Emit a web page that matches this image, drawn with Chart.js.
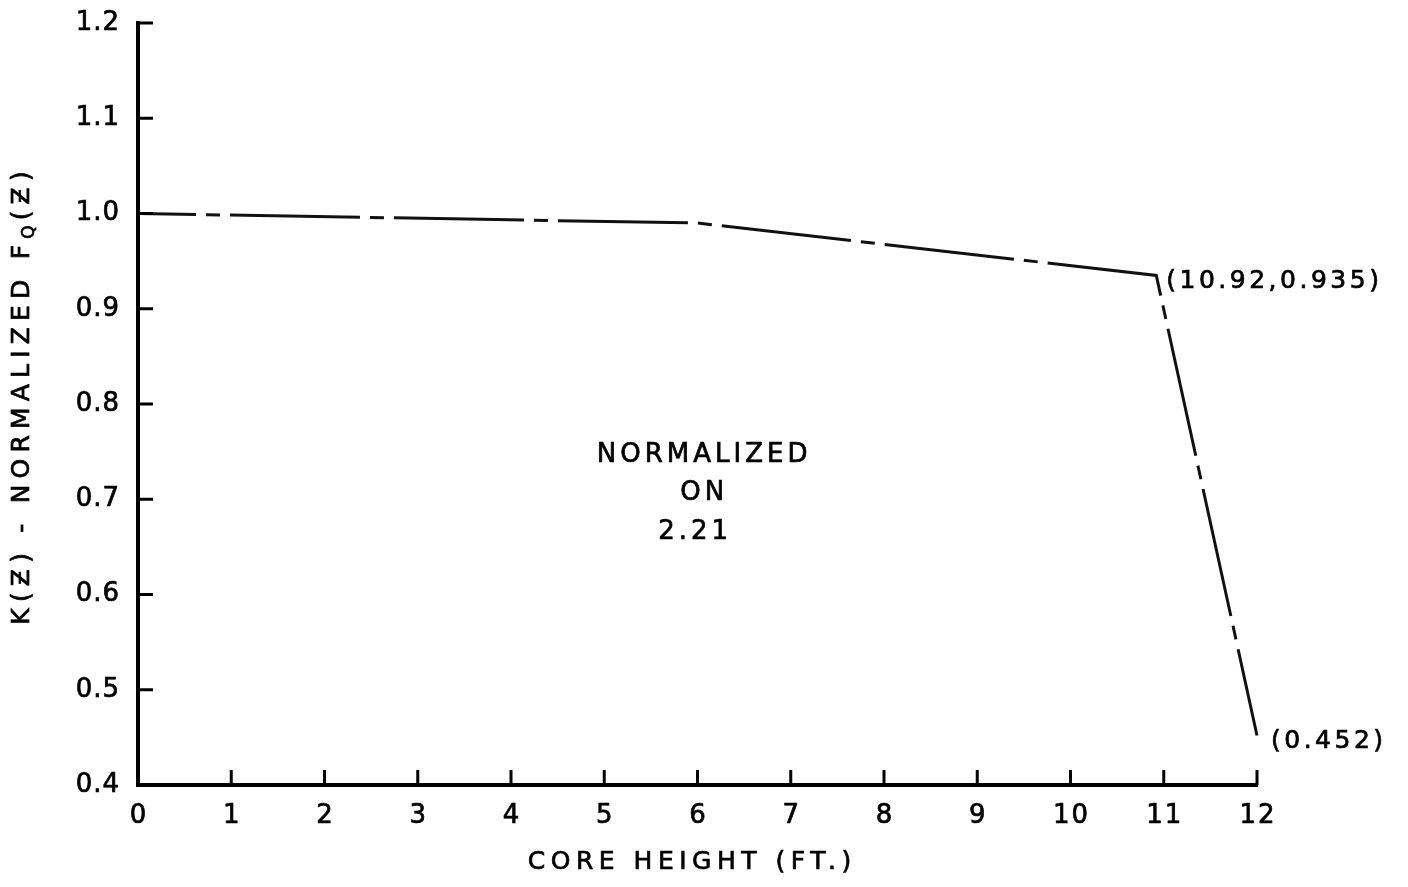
<!DOCTYPE html>
<html lang="en">
<head>
<meta charset="UTF-8">
<title>K(Z) - Normalized FQ(Z)</title>
<script src="https://cdn.jsdelivr.net/npm/chart.js"></script>
<style>
  html, body { margin: 0; padding: 0; background: #fff; }
  #wrap { width: 1408px; height: 887px; }
</style>
</head>
<body>
<div id="wrap"><canvas id="kzChart" width="1408" height="887"></canvas></div>
<script>
// values
const coreHeight = [0, 6, 10.92, 12];
const kzValues   = [1.0, 0.99, 0.935, 0.452];
const pointNotes = { 2: '(10.92,0.935)', 3: '(0.452)' };
const centreNote = ['NORMALIZED', 'ON', '2.21'];
const xTitle = 'CORE HEIGHT (FT.)';
const yTitle = ['K(Ƶ) - NORMALIZED F', 'Q', '(Ƶ)'];

const FONT = '"DejaVu Sans", Arial, sans-serif';
const INK = '#000';

// text with letter spacing, align = left | center | right
function spaced(ctx, text, x, y, size, gap, align) {
  ctx.save();
  ctx.font = size + 'px ' + FONT;
  ctx.letterSpacing = gap + 'px';
  ctx.fillStyle = INK;
  ctx.strokeStyle = INK;
  ctx.lineWidth = 0.7;
  ctx.textBaseline = 'middle';
  ctx.textAlign = 'left';
  const w = ctx.measureText(text).width - gap;
  let x0 = x;
  if (align === 'center') x0 = x - w / 2;
  if (align === 'right') x0 = x - w;
  ctx.fillText(text, x0, y);
  ctx.strokeText(text, x0, y);
  ctx.restore();
  return w;
}

const decorations = {
  id: 'decorations',
  afterDraw(chart) {
    const ctx = chart.ctx;
    const xs = chart.scales.x, ys = chart.scales.y;
    const area = chart.chartArea;

    // inward tick marks + tick labels
    ctx.save();
    ctx.strokeStyle = INK;
    ctx.lineWidth = 3;
    xs.ticks.forEach(t => {
      const px = xs.getPixelForValue(t.value);
      if (t.value > xs.min) {
        ctx.beginPath(); ctx.moveTo(px, area.bottom); ctx.lineTo(px, area.bottom - 15); ctx.stroke();
      }
      spaced(ctx, String(t.value), px, area.bottom + 31, 26, 2, 'center');
    });
    ys.ticks.forEach(t => {
      const py = ys.getPixelForValue(t.value);
      if (t.value > ys.min + 1e-9) {
        ctx.beginPath(); ctx.moveTo(area.left, py); ctx.lineTo(area.left + 15, py); ctx.stroke();
      }
      spaced(ctx, t.value.toFixed(1), area.left - 19, py, 26, 1, 'right');
    });
    ctx.restore();

    // x title
    spaced(ctx, xTitle, (area.left + area.right) / 2 - 8, 862, 25, 5.5, 'center');

    // y title, rotated, with subscript Q
    const big = 25, bigGap = 6.2, small = 17, smallGap = 2;
    ctx.save();
    ctx.translate(22, 398);
    ctx.rotate(-Math.PI / 2);
    ctx.font = big + 'px ' + FONT;
    ctx.letterSpacing = bigGap + 'px';
    const w1 = ctx.measureText(yTitle[0]).width;
    const w3 = ctx.measureText(yTitle[2]).width - bigGap;
    ctx.font = small + 'px ' + FONT;
    ctx.letterSpacing = smallGap + 'px';
    const w2 = ctx.measureText(yTitle[1]).width;
    const total = w1 + w2 + 3 + w3;
    let sx = -total / 2;
    spaced(ctx, yTitle[0], sx, 0, big, bigGap, 'left');
    sx += w1;
    spaced(ctx, yTitle[1], sx, 8, small, smallGap, 'left');
    sx += w2 + 3;
    spaced(ctx, yTitle[2], sx, 0, big, bigGap, 'left');
    ctx.restore();

    // notes at the bend points
    Object.keys(pointNotes).forEach(i => {
      const px = xs.getPixelForValue(coreHeight[i]);
      const py = ys.getPixelForValue(kzValues[i]);
      spaced(ctx, pointNotes[i], px + (i == 3 ? 14 : 10), py + 6, 25, 3.5, 'left');
    });

    // centre note
    const cx = xs.getPixelForValue(6.05);
    const rows = [0.746, 0.706, 0.665];
    centreNote.forEach((t, k) => {
      spaced(ctx, t, k === 2 ? cx - 9 : cx, ys.getPixelForValue(rows[k]), 26, 4, 'center');
    });
  }
};

new Chart(document.getElementById('kzChart'), {
  type: 'line',
  data: {
    datasets: [{
      data: coreHeight.map((h, i) => ({ x: h, y: kzValues[i] })),
      borderColor: '#111',
      borderWidth: 3,
      borderDash: [130, 10, 14, 10],
      borderDashOffset: 72,
      pointRadius: 0,
      tension: 0,
      fill: false,
      clip: false
    }]
  },
  options: {
    responsive: false,
    animation: false,
    layout: { padding: { left: 138, right: 151, top: 23, bottom: 102 } },
    plugins: { legend: { display: false }, tooltip: { enabled: false } },
    scales: {
      x: {
        type: 'linear', min: 0, max: 12,
        ticks: { display: false, stepSize: 1 },
        grid: { display: false, drawTicks: false },
        border: { display: true, color: INK, width: 4 }
      },
      y: {
        min: 0.4, max: 1.2,
        ticks: { display: false, stepSize: 0.1 },
        grid: { display: false, drawTicks: false },
        border: { display: true, color: INK, width: 4 }
      }
    }
  },
  plugins: [decorations]
});
</script>
</body>
</html>
